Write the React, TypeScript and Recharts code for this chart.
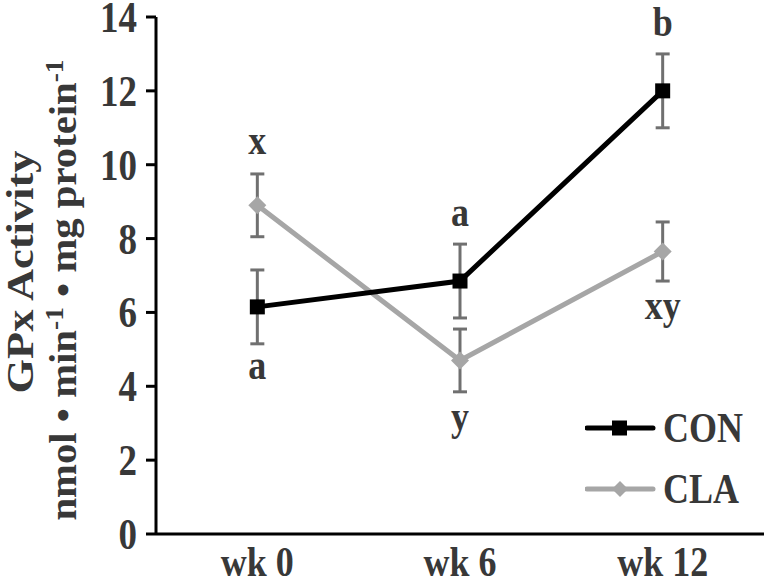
import { ComposedChart, ErrorBar, LabelList, Line, XAxis, YAxis } from "recharts";

const weeks = ["wk 0", "wk 6", "wk 12"];
const conMean = [6.15, 6.85, 12.0];
const conErr = [1.0, 1.0, 1.0];
const claMean = [8.9, 4.7, 7.65];
const claErr = [0.85, 0.85, 0.8];
const conAbove = ["", "a", "b"];
const conBelow = ["a", "", ""];
const claAbove = ["x", "", ""];
const claBelow = ["", "y", "xy"];
const yTicks = [0, 2, 4, 6, 8, 10, 12, 14];

const FONT = "'Liberation Serif', 'Times New Roman', serif";
const TEXT = "#383838";
const GRAY = "#a6a6a6";
const ERR = "#707070";
// the source figure's lettering is stretched vertically
const STRETCH = 1.2;

const data = weeks.map((week, i) => ({
  week,
  con: conMean[i],
  conErr: conErr[i],
  cla: claMean[i],
  claErr: claErr[i],
  conHi: conMean[i] + conErr[i],
  conLo: conMean[i] - conErr[i],
  claHi: claMean[i] + claErr[i],
  claLo: claMean[i] - claErr[i],
  conAbove: conAbove[i],
  conBelow: conBelow[i],
  claAbove: claAbove[i],
  claBelow: claBelow[i],
}));

const TallText = ({ x, y, anchor = "middle", size = 36, children }: any) => (
  <g transform={`translate(${x}, ${y}) scale(1, ${STRETCH})`}>
    <text
      x={0}
      y={0}
      textAnchor={anchor}
      fontFamily={FONT}
      fontWeight="bold"
      fontSize={size}
      fill={TEXT}
    >
      {children}
    </text>
  </g>
);

const Square = ({ cx, cy }: any) => (
  <rect x={cx - 7.5} y={cy - 7.5} width={15} height={15} fill="#000" />
);

const Diamond = ({ cx, cy }: any) => (
  <polygon
    points={`${cx},${cy - 9} ${cx + 9},${cy} ${cx},${cy + 9} ${cx - 9},${cy}`}
    fill={GRAY}
  />
);

const letter = (dy: number) => (props: any) => {
  const { x, y, value } = props;
  if (!value) return null;
  return <TallText x={x} y={y + dy}>{value}</TallText>;
};

const XTick = ({ x, y, payload }: any) => (
  <TallText x={x} y={y + 42}>{payload.value}</TallText>
);

const YTick = ({ x, y, payload }: any) => (
  <TallText x={x} y={y + 15} anchor="end" size={37}>{payload.value}</TallText>
);

const YTitle = () => (
  <g fontFamily={FONT} fontWeight="bold" fontSize={37} fill={TEXT}>
    <text transform={`translate(33, 272) rotate(-90) scale(1.2, 1)`} textAnchor="middle">
      GPx Activity
    </text>
    <text transform={`translate(76, 290) rotate(-90) scale(1.1, 1)`} textAnchor="middle">
      nmol • min<tspan dy={-13} fontSize={25}>-1</tspan>
      <tspan dy={13}> • mg protein</tspan>
      <tspan dy={-13} fontSize={25}>-1</tspan>
    </text>
  </g>
);

const LegendBox = () => (
  <svg width={180} height={110}>
    <g>
      <line x1={2} y1={23} x2={68} y2={23} stroke="#000" strokeWidth={5} strokeLinecap="round" />
      <rect x={27} y={15.5} width={15} height={15} fill="#000" />
      <TallText x={78} y={37} anchor="start">CON</TallText>
    </g>
    <g>
      <line x1={2} y1={84} x2={68} y2={84} stroke={GRAY} strokeWidth={5} strokeLinecap="round" />
      <polygon points="35,76 43,84 35,92 27,84" fill={GRAY} />
      <TallText x={78} y={98} anchor="start">CLA</TallText>
    </g>
  </svg>
);

export default function App() {
  return (
    <div style={{ position: "absolute", left: 0, top: 0, width: 764, height: 586, background: "#fff" }}>
      <ComposedChart
        width={764}
        height={586}
        data={data}
        margin={{ top: 17, right: 0, bottom: 0, left: 0 }}
      >
        <XAxis
          dataKey="week"
          scale="band"
          axisLine={{ stroke: "#000", strokeWidth: 3 }}
          tickLine={false}
          tickSize={0}
          tickMargin={0}
          height={52}
          tick={<XTick />}
        />
        <YAxis
          domain={[0, 14]}
          ticks={yTicks}
          width={156}
          axisLine={{ stroke: "#000", strokeWidth: 3 }}
          tickLine={{ stroke: "#000", strokeWidth: 3 }}
          tickSize={10}
          tickMargin={9}
          tick={<YTick />}
          label={<YTitle />}
        />
        <Line
          dataKey="cla"
          stroke={GRAY}
          strokeWidth={5}
          dot={<Diamond />}
          activeDot={false}
          isAnimationActive={false}
        >
          <ErrorBar dataKey="claErr" stroke={ERR} strokeWidth={3} width={7} />
        </Line>
        <Line
          dataKey="con"
          stroke="#000"
          strokeWidth={5}
          dot={<Square />}
          activeDot={false}
          isAnimationActive={false}
        >
          <ErrorBar dataKey="conErr" stroke={ERR} strokeWidth={3} width={7} />
        </Line>
        <Line dataKey="conHi" stroke="none" dot={false} activeDot={false} legendType="none" isAnimationActive={false}>
          <LabelList dataKey="conAbove" content={letter(-18)} />
        </Line>
        <Line dataKey="conLo" stroke="none" dot={false} activeDot={false} legendType="none" isAnimationActive={false}>
          <LabelList dataKey="conBelow" content={letter(35)} />
        </Line>
        <Line dataKey="claHi" stroke="none" dot={false} activeDot={false} legendType="none" isAnimationActive={false}>
          <LabelList dataKey="claAbove" content={letter(-20)} />
        </Line>
        <Line dataKey="claLo" stroke="none" dot={false} activeDot={false} legendType="none" isAnimationActive={false}>
          <LabelList dataKey="claBelow" content={letter(38)} />
        </Line>
      </ComposedChart>
      <div style={{ position: "absolute", left: 585, top: 405 }}>
        <LegendBox />
      </div>
    </div>
  );
}
